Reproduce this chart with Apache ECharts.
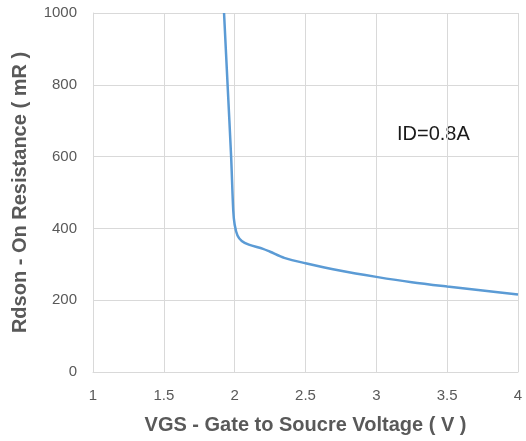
<!DOCTYPE html>
<html>
<head>
<meta charset="utf-8">
<script src="https://cdn.jsdelivr.net/npm/echarts@6/dist/echarts.min.js"></script>
<style>
  html, body { margin: 0; padding: 0; background: #fff; }
  #chart { width: 526px; height: 441px; }
</style>
</head>
<body>
<div id="chart"></div>
<script>
// VGS (V) and Rdson (mR)
const vgs = [1.925, 1.95, 1.975, 1.99, 2.0, 2.02, 2.05, 2.1, 2.2, 2.25, 2.35, 2.5, 2.75, 3.0, 3.25, 3.5, 3.75, 4.0];
const rdson = [1000, 800, 600, 450, 410, 380, 365, 355, 343, 335, 318, 303, 282, 265, 250, 238, 227, 216];
const xTitle = "VGS - Gate to Soucre Voltage ( V )";
const yTitle = "Rdson - On Resistance ( mR )";
const note = "ID=0.8A";

const points = vgs.map((v, i) => [v, rdson[i]]);

const chart = echarts.init(document.getElementById("chart"));
const option = {
    animation: false,
    textStyle: { fontFamily: "Liberation Sans" },
    grid: { left: 93, right: 8, top: 13, bottom: 69 },
    xAxis: {
        type: "value",
        min: 1, max: 4, interval: 0.5,
        name: xTitle,
        nameLocation: "middle",
        nameGap: 43,
        nameTextStyle: { fontSize: 20, fontWeight: "bold", color: "#595959" },
        axisLine: { show: true, lineStyle: { color: "#d9d9d9" } },
        axisTick: { show: false },
        axisLabel: { color: "#595959", fontSize: 15, margin: 16 },
        splitLine: { show: true, lineStyle: { color: "#d9d9d9" } }
    },
    yAxis: {
        type: "value",
        min: 0, max: 1000, interval: 200,
        name: yTitle,
        nameLocation: "middle",
        nameGap: 63,
        nameTextStyle: { fontSize: 20, fontWeight: "bold", color: "#595959" },
        axisLine: { show: true, lineStyle: { color: "#d9d9d9" } },
        axisTick: { show: false },
        axisLabel: { color: "#595959", fontSize: 15, margin: 16, formatter: v => String(v) },
        splitLine: { show: true, lineStyle: { color: "#d9d9d9" } }
    },
    series: [{
        type: "line",
        data: points,
        smooth: 0.3,
        showSymbol: false,
        lineStyle: { color: "#5b9bd5", width: 2.5 }
    }],
    graphic: [{
        type: "text",
        x: 397, y: 134,
        style: { text: note, fontSize: 20, fill: "#1a1a1a", fontFamily: "Liberation Sans", align: "left", verticalAlign: "middle" }
    }]
};
chart.setOption(option);
</script>
</body>
</html>
